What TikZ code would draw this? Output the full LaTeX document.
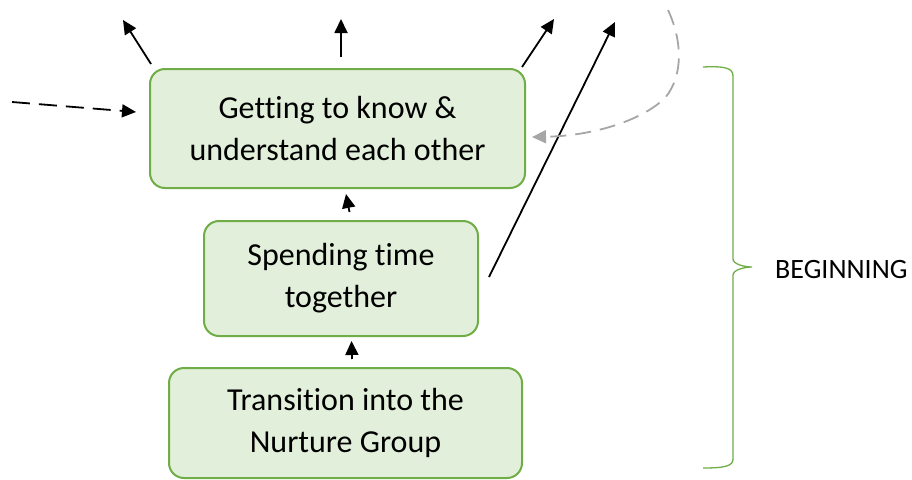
\documentclass[tikz,border=0pt]{standalone}
\usepackage{fontspec}
\setmainfont{Carlito}[Ligatures={NoCommon}]
\usetikzlibrary{arrows.meta}
\definecolor{boxfill}{HTML}{E2EFDA}
\definecolor{boxline}{HTML}{70AD47}
\definecolor{grayline}{HTML}{A6A6A6}
\begin{document}
\begin{tikzpicture}[x=1pt,y=-1pt,
  stage/.style={draw=boxline, fill=boxfill, line width=2pt, rounded corners=15pt,
    align=center, font=\fontsize{32}{42}\selectfont, inner sep=0pt},
  arr/.style={line width=1.8pt, -{Triangle[length=14pt,width=13pt]}},
  garr/.style={line width=1.8pt, draw=grayline, dash pattern=on 16pt off 9pt,
    -{Triangle[length=14pt,width=13pt,fill=grayline]}},
  darr/.style={line width=1.8pt, dash pattern=on 18pt off 9pt, -{Triangle[length=14pt,width=13pt]}},
  brace/.style={draw=boxline, line width=1.3pt}]
\useasboundingbox (0,0) rectangle (912,479);
\node[stage, minimum width=375pt, minimum height=119pt] (b1) at (337.5,128.5)
  {Getting to know \&\\understand each other};
\node[stage, minimum width=274pt, minimum height=115pt] (b2) at (341,278.5)
  {Spending time\\together};
\node[stage, minimum width=353pt, minimum height=110pt] (b3) at (345.5,423)
  {Transition into the\\Nurture Group};
% free ends
\coordinate (tl) at (123,20);
\coordinate (tm) at (341,19);
\coordinate (tr) at (554,19);
\coordinate (tlong) at (615,22);
\coordinate (din) at (12,102);
\coordinate (gstart) at (668,10);
% short arrows between boxes
\draw[arr] ([xshift=8.5pt,yshift=8pt]b2.north) -- ([xshift=8.5pt,yshift=-5pt]b1.south);
\draw[arr] ([xshift=6.5pt,yshift=8pt]b3.north) -- ([xshift=10.5pt,yshift=-4pt]b2.south);
% top arrows
\draw[arr] ([xshift=2pt,yshift=4pt]b1.north west) -- (tl);
\draw[arr] ([xshift=3.5pt,yshift=11pt]b1.north) -- (tm);
\draw[arr] ([xshift=-4pt,yshift=1pt]b1.north east) -- (tr);
\draw[arr] ([xshift=10pt,yshift=1.5pt]b2.east) -- (tlong);
% incoming dashed
\draw[darr] (din) -- ([xshift=-13pt,yshift=16.5pt]b1.west);
\draw[garr] (gstart) .. controls (682,40) and (684,75) .. (665,98)
  .. controls (640,122) and (590,136) .. ([xshift=6pt,yshift=-8.5pt]b1.east);
% brace
\coordinate (bt) at (703,67);
\coordinate (bb) at (703,468);
\coordinate (btip) at (752,267);
\draw[brace] (bt) .. controls (725,66) and (733,68) .. (733,76) -- (733,259)
  .. controls (733,264) and (744,267) .. (btip)
  .. controls (744,267) and (733,270) .. (733,275) -- (733,459)
  .. controls (733,466) and (725,468) .. (bb);
\node[anchor=west, font=\fontsize{28}{32}\selectfont, inner sep=0pt] (lab) at (775,270) {BEGINNING};
\end{tikzpicture}
\end{document}
